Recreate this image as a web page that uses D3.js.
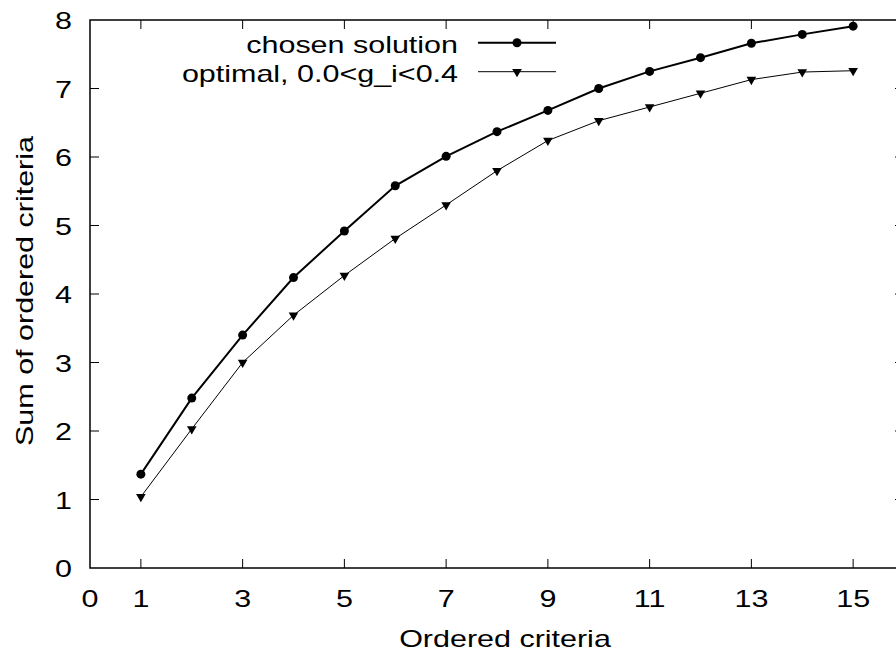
<!DOCTYPE html>
<html>
<head>
<meta charset="utf-8">
<script src="https://cdn.jsdelivr.net/npm/d3@7"></script>
<style>
  body { margin: 0; background: #fff; }
  text { font-family: "Liberation Sans", Arial, sans-serif; fill: #000; font-size: 24px; }
</style>
</head>
<body>
<div id="chart"></div>
<script>
// data
let criteria = [1, 2, 3, 4, 5, 6, 7, 8, 9, 10, 11, 12, 13, 14, 15]
let chosen = [1.37, 2.48, 3.40, 4.24, 4.92, 5.58, 6.01, 6.37, 6.68, 7.00, 7.25, 7.45, 7.66, 7.79, 7.91]
let optimal = [1.04, 2.03, 3.00, 3.69, 4.27, 4.81, 5.30, 5.80, 6.24, 6.53, 6.73, 6.93, 7.13, 7.24, 7.26]
let xTicks = [0, 1, 3, 5, 7, 9, 11, 13, 15]
let yTicks = [0, 1, 2, 3, 4, 5, 6, 7, 8]
let seriesNames = ["chosen solution", "optimal, 0.0<g_i<0.4"]

let width = 896, height = 653
let margin = { left: 90, right: -8, top: 20, bottom: 85 }

let svg = d3.select("#chart").append("svg")
  .attr("width", width)
  .attr("height", height)

let x = d3.scaleLinear().domain([0, 16]).range([margin.left, width - margin.right])
let y = d3.scaleLinear().domain([0, 8]).range([height - margin.bottom, margin.top])

let tickLen = 9
let stretch = 1.27  // the original font is wider than Liberation Sans

// text helper: places a label and widens it along its own direction
function label(parent, tx, ty, str, anchor, rot) {
  return parent.append("text")
    .attr("transform", "translate(" + tx + "," + ty + ")" + (rot ? " rotate(" + rot + ")" : "") + " scale(" + stretch + ",1)")
    .attr("text-anchor", anchor)
    .text(str)
}

// ticks on all four sides, pointing inwards
let g = svg.append("g").attr("stroke", "#000").attr("stroke-width", 1)
xTicks.filter(d => d > 0).forEach(d => {
  g.append("line").attr("x1", x(d)).attr("x2", x(d)).attr("y1", y(0)).attr("y2", y(0) - tickLen)
  g.append("line").attr("x1", x(d)).attr("x2", x(d)).attr("y1", y(8)).attr("y2", y(8) + tickLen)
})
yTicks.filter(d => d > 0 && d < 8).forEach(d => {
  g.append("line").attr("x1", x(0)).attr("x2", x(0) + tickLen).attr("y1", y(d)).attr("y2", y(d))
  g.append("line").attr("x1", x(16)).attr("x2", x(16) - tickLen).attr("y1", y(d)).attr("y2", y(d))
})

// frame
svg.append("rect")
  .attr("x", x(0)).attr("y", y(8))
  .attr("width", x(16) - x(0)).attr("height", y(0) - y(8))
  .attr("fill", "none").attr("stroke", "#000").attr("stroke-width", 1.5)

// tick labels
let tl = svg.append("g")
xTicks.forEach(d => label(tl, x(d), y(0) + 39, d, "middle"))
yTicks.forEach(d => label(tl, x(0) - 18, y(d) + 9, d, "end"))

// axis titles
label(svg, (x(0) + x(16)) / 2 + 8, 647, "Ordered criteria", "middle")
label(svg, 33, 291, "Sum of ordered criteria", "middle", -90)

let line = d3.line().x((d, i) => x(criteria[i])).y(d => y(d))
let tri = d3.symbol().type(d3.symbolTriangle).size(40)

// optimal series
svg.append("path").datum(optimal)
  .attr("d", line).attr("fill", "none").attr("stroke", "#000").attr("stroke-width", 1)
svg.append("g").selectAll("path").data(optimal).enter().append("path")
  .attr("d", tri)
  .attr("transform", (d, i) => "translate(" + x(criteria[i]) + "," + y(d) + ") rotate(180)")
  .attr("fill", "#000")

// chosen series
svg.append("path").datum(chosen)
  .attr("d", line).attr("fill", "none").attr("stroke", "#000").attr("stroke-width", 2)
svg.append("g").selectAll("circle").data(chosen).enter().append("circle")
  .attr("cx", (d, i) => x(criteria[i])).attr("cy", d => y(d))
  .attr("r", 4.5).attr("fill", "#000")

// legend
let leg = svg.append("g")
let rows = [42.7, 71.7]
seriesNames.forEach((name, i) => {
  label(leg, 458, rows[i] + 10, name, "end")
  leg.append("line")
    .attr("x1", 478).attr("x2", 556).attr("y1", rows[i]).attr("y2", rows[i])
    .attr("stroke", "#000").attr("stroke-width", i == 0 ? 2 : 1)
  if (i == 0) {
    leg.append("circle").attr("cx", 517).attr("cy", rows[i]).attr("r", 4.5).attr("fill", "#000")
  } else {
    leg.append("path").attr("d", tri)
      .attr("transform", "translate(517," + rows[i] + ") rotate(180)")
      .attr("fill", "#000")
  }
})
</script>
</body>
</html>
